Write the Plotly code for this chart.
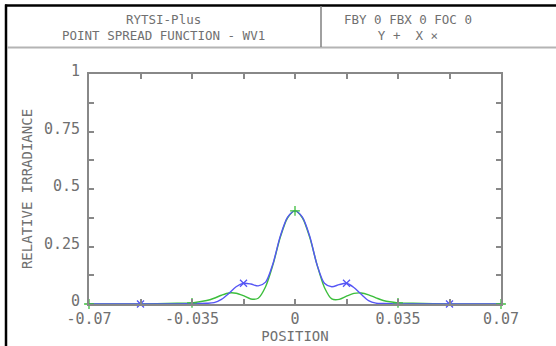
import plotly.graph_objects as go

# ---- data ----
position = [-0.07, -0.0525, -0.04, -0.035, -0.03, -0.0275, -0.025, -0.0225, -0.02, -0.0175,
            -0.015, -0.0125, -0.01, -0.0075, -0.005, -0.0025, 0.0,
            0.0025, 0.005, 0.0075, 0.01, 0.0125, 0.015, 0.0175, 0.02, 0.0225,
            0.025, 0.0275, 0.03, 0.035, 0.04, 0.0525, 0.07]
y_irr = [0.0, 0.0, 0.003, 0.005, 0.015, 0.025, 0.038, 0.048, 0.047, 0.036,
         0.022, 0.025, 0.075, 0.17, 0.29, 0.375, 0.405,
         0.375, 0.29, 0.17, 0.072, 0.022, 0.02, 0.034, 0.046, 0.048,
         0.04, 0.027, 0.015, 0.005, 0.003, 0.0, 0.0]
x_irr = [0.0, 0.0, 0.0, 0.002, 0.003, 0.006, 0.02, 0.046, 0.075, 0.09,
         0.087, 0.079, 0.095, 0.175, 0.295, 0.378, 0.405,
         0.378, 0.295, 0.17, 0.09, 0.075, 0.084, 0.09, 0.072, 0.042,
         0.015, 0.004, 0.002, 0.0, 0.0, 0.0, 0.0]

y_marker_pos = [-0.07, -0.035, 0.0, 0.035, 0.07]
x_marker_pos = [-0.0525, -0.0175, 0.0175, 0.0525]

x_ticks = [-0.07, -0.035, 0, 0.035, 0.07]
x_ticktext = ["-0.07", "-0.035", "0", "0.035", "0.07"]
y_ticks = [0, 0.25, 0.5, 0.75, 1]
y_ticktext = ["0", "0.25", "0.5", "0.75", "1"]

header_left = ["RYTSI-Plus", "POINT SPREAD FUNCTION - WV1"]
header_right = ["FBY 0 FBX 0 FOC 0", "Y +  X \u00d7"]

GREEN = "rgb(60,190,60)"
BLUE = "rgb(85,85,245)"
GRAY = "#707070"
FONT = "DejaVu Sans Mono"

W, H = 556, 346
L, R, T, B = 89, 501, 74, 304


def px(xp):
    return (xp - L) / (R - L)


def py(yp):
    return (B - yp) / (B - T)


fig = go.Figure()
fig.add_trace(go.Scatter(x=position, y=y_irr, mode="lines",
                         line=dict(color=GREEN, width=1.4, shape="spline", smoothing=0.8),
                         hoverinfo="skip", showlegend=False))
fig.add_trace(go.Scatter(x=position, y=x_irr, mode="lines",
                         line=dict(color=BLUE, width=1.4, shape="spline", smoothing=0.8),
                         hoverinfo="skip", showlegend=False))
fig.add_trace(go.Scatter(x=y_marker_pos, y=[y_irr[position.index(p)] for p in y_marker_pos],
                         mode="markers", cliponaxis=False,
                         marker=dict(symbol="cross-thin", size=7, line=dict(color=GREEN, width=1.3)),
                         hoverinfo="skip", showlegend=False))
fig.add_trace(go.Scatter(x=x_marker_pos, y=[x_irr[position.index(p)] for p in x_marker_pos],
                         mode="markers", cliponaxis=False,
                         marker=dict(symbol="x-thin", size=7, line=dict(color=BLUE, width=1.3)),
                         hoverinfo="skip", showlegend=False))

axis_common = dict(showgrid=False, zeroline=False, showline=True, linecolor="#888888",
                   linewidth=2, mirror="ticks", ticks="inside", ticklen=5, tickwidth=1.5,
                   tickcolor="#888888", automargin=False,
                   tickfont=dict(family=FONT, size=15, color=GRAY))

fig.update_xaxes(range=[-0.07, 0.07], tickvals=x_ticks, ticktext=x_ticktext,
                 minor=dict(tickvals=[-0.0525, -0.0175, 0.0175, 0.0525], ticks="inside",
                            ticklen=5, tickwidth=1.5, tickcolor="#888888"),
                 title=dict(text="POSITION", font=dict(family=FONT, size=14, color=GRAY), standoff=4),
                 ticklabelstandoff=0,
                 **axis_common)
fig.update_yaxes(range=[0, 1], tickvals=y_ticks, ticktext=y_ticktext,
                 minor=dict(tickvals=[0.125, 0.375, 0.625, 0.875], ticks="inside",
                            ticklen=5, tickwidth=1.5, tickcolor="#888888"),
                 title=dict(text="RELATIVE IRRADIANCE", font=dict(family=FONT, size=14, color=GRAY), standoff=8),
                 ticklabelstandoff=4, ticklabelshift=-3,
                 **axis_common)

shapes = [
    # outer black frame (top and left)
    dict(type="line", xref="paper", yref="paper", x0=px(5), x1=px(560), y0=py(5.5), y1=py(5.5),
         line=dict(color="black", width=2.5)),
    dict(type="line", xref="paper", yref="paper", x0=px(6), x1=px(6), y0=py(4.5), y1=py(350),
         line=dict(color="black", width=2.5)),
    # header separator lines
    dict(type="line", xref="paper", yref="paper", x0=px(7), x1=px(560), y0=py(47.5), y1=py(47.5),
         line=dict(color="#b4b4b4", width=2)),
    dict(type="line", xref="paper", yref="paper", x0=px(321), x1=px(321), y0=py(6), y1=py(47),
         line=dict(color="#808080", width=1.5)),
]

hdr_font = dict(family=FONT, size=12.5, color=GRAY)
annotations = [
    dict(text="<br>".join(header_left), x=px(163), y=py(27), xref="paper", yref="paper",
         showarrow=False, font=hdr_font, xanchor="center", yanchor="middle", align="center"),
    dict(text="<br>".join(header_right), x=px(408), y=py(27), xref="paper", yref="paper",
         showarrow=False, font=hdr_font, xanchor="center", yanchor="middle", align="center"),
]

fig.update_layout(width=W, height=H, margin=dict(l=L, r=W - R, t=T, b=H - B, autoexpand=False),
                  paper_bgcolor="white", plot_bgcolor="white",
                  shapes=shapes, annotations=annotations, showlegend=False)

fig.write_html("out.html", config={"displayModeBar": False},
               post_script="document.body.style.margin='0';document.body.style.overflow='hidden';")
